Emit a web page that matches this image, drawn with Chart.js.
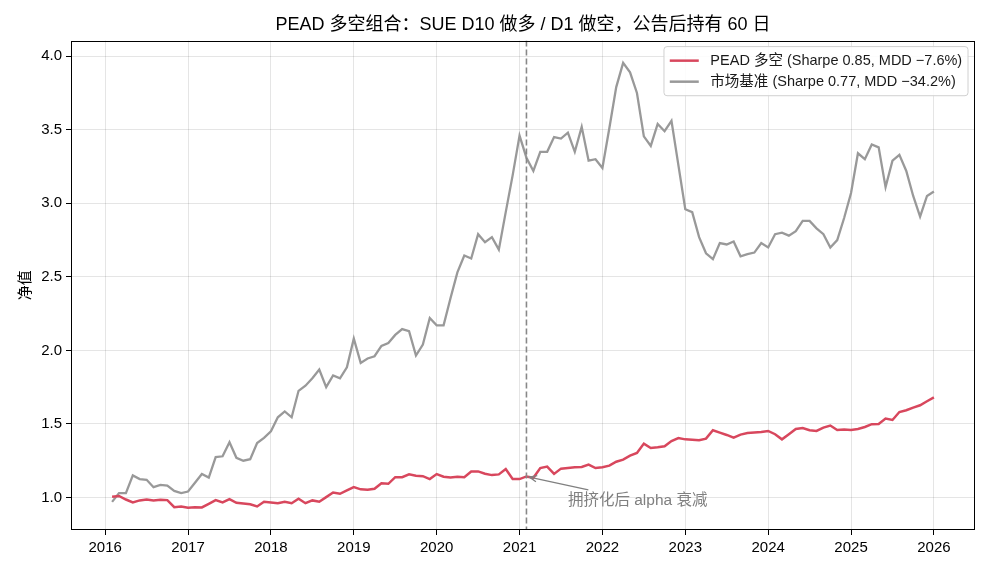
<!DOCTYPE html>
<html><head><meta charset="utf-8">
<script src="https://cdn.jsdelivr.net/npm/chart.js@4.4.1/dist/chart.umd.min.js"></script>
<style>html,body{margin:0;padding:0;background:#fff}#wrap{width:990px;height:572px;position:relative}</style>
</head><body><div id="wrap"><canvas id="c" width="990" height="572"></canvas></div>
<script>
const months = [
 '2016-01','2016-02','2016-03','2016-04','2016-05','2016-06','2016-07','2016-08','2016-09','2016-10','2016-11','2016-12',
 '2017-01','2017-02','2017-03','2017-04','2017-05','2017-06','2017-07','2017-08','2017-09','2017-10','2017-11','2017-12',
 '2018-01','2018-02','2018-03','2018-04','2018-05','2018-06','2018-07','2018-08','2018-09','2018-10','2018-11','2018-12',
 '2019-01','2019-02','2019-03','2019-04','2019-05','2019-06','2019-07','2019-08','2019-09','2019-10','2019-11','2019-12',
 '2020-01','2020-02','2020-03','2020-04','2020-05','2020-06','2020-07','2020-08','2020-09','2020-10','2020-11','2020-12',
 '2021-01','2021-02','2021-03','2021-04','2021-05','2021-06','2021-07','2021-08','2021-09','2021-10','2021-11','2021-12',
 '2022-01','2022-02','2022-03','2022-04','2022-05','2022-06','2022-07','2022-08','2022-09','2022-10','2022-11','2022-12',
 '2023-01','2023-02','2023-03','2023-04','2023-05','2023-06','2023-07','2023-08','2023-09','2023-10','2023-11','2023-12',
 '2024-01','2024-02','2024-03','2024-04','2024-05','2024-06','2024-07','2024-08','2024-09','2024-10','2024-11','2024-12',
 '2025-01','2025-02','2025-03','2025-04','2025-05','2025-06','2025-07','2025-08','2025-09','2025-10','2025-11','2025-12'
];
const peadValues = [
 1.005,1.01,0.986,0.966,0.98,0.986,0.98,0.984,0.982,0.934,
 0.939,0.93,0.934,0.932,0.957,0.982,0.966,0.989,0.964,0.959,
 0.954,0.939,0.971,0.966,0.961,0.971,0.961,0.991,0.961,0.98,
 0.971,1.002,1.034,1.025,1.048,1.07,1.055,1.052,1.059,1.097,
 1.093,1.138,1.138,1.157,1.148,1.145,1.125,1.159,1.141,1.136,
 1.141,1.138,1.177,1.177,1.161,1.152,1.157,1.193,1.125,1.125,
 1.143,1.134,1.2,1.21,1.16,1.196,1.2,1.205,1.207,1.223,
 1.2,1.205,1.216,1.243,1.257,1.284,1.302,1.366,1.336,1.341,
 1.348,1.384,1.404,1.395,1.393,1.389,1.4,1.457,1.441,1.425,
 1.407,1.427,1.438,1.441,1.445,1.452,1.43,1.395,1.43,1.466,
 1.472,1.457,1.452,1.475,1.489,1.459,1.462,1.459,1.466,1.479,
 1.498,1.5,1.536,1.527,1.581,1.593,1.611,1.627,1.654,1.68
];
const benchmarkValues = [
 0.97,1.03,1.03,1.15,1.125,1.12,1.07,1.085,1.08,1.045,
 1.03,1.04,1.10,1.16,1.135,1.275,1.28,1.375,1.27,1.25,
 1.26,1.37,1.405,1.45,1.545,1.585,1.545,1.725,1.76,1.81,
 1.87,1.75,1.83,1.81,1.885,2.08,1.915,1.945,1.96,2.03,
 2.05,2.105,2.145,2.13,1.965,2.04,2.22,2.17,2.17,2.355,
 2.53,2.645,2.625,2.79,2.735,2.77,2.685,2.94,3.19,3.46,
 3.31,3.22,3.35,3.35,3.45,3.44,3.48,3.35,3.52,3.29,
 3.30,3.24,3.51,3.79,3.955,3.89,3.75,3.455,3.39,3.54,
 3.49,3.56,3.26,2.96,2.94,2.77,2.66,2.62,2.73,2.72,
 2.74,2.64,2.655,2.665,2.73,2.70,2.79,2.80,2.78,2.81,
 2.88,2.88,2.83,2.79,2.70,2.75,2.90,3.07,3.34,3.30,
 3.40,3.38,3.11,3.29,3.33,3.22,3.05,2.91,3.05,3.08
];
const xTickYears = [2016,2017,2018,2019,2020,2021,2022,2023,2024,2025,2026];
const yTickValues = [1.0,1.5,2.0,2.5,3.0,3.5,4.0];
const seriesLabels = ['PEAD 多空 (Sharpe 0.85, MDD −7.6%)', '市场基准 (Sharpe 0.77, MDD −34.2%)'];
const seriesColors = ['#d8475d', '#999999'];
const titleText = 'PEAD 多空组合：SUE D10 做多 / D1 做空，公告后持有 60 日';
const yTitleText = '净值';
const eventMonth = '2021-01';
const annotationText = '拥挤化后 alpha 衰减';
const annotationTextMonth = '2021-07';
const annotationTextValue = 0.98;

const FONT = '"Liberation Sans", "Noto Sans CJK SC", sans-serif';
function toYear(m){ const [yy,mm] = m.split('-').map(Number); return yy + mm/12; }

const xs = months.map(toYear);
const xMinData = Math.min(...xs), xMaxData = Math.max(...xs);
const allV = peadValues.concat(benchmarkValues);
const yMinData = Math.min(...allV), yMaxData = Math.max(...allV);
const xPad = (xMaxData - xMinData) * 0.05, yPad = (yMaxData - yMinData) * 0.05;

const decor = {
  id: 'decor',
  afterDatasetsDraw(chart){
    const {ctx, chartArea:a, scales:{x, y}} = chart;
    ctx.save();
    const ex = x.getPixelForValue(toYear(eventMonth));
    ctx.save();
    ctx.beginPath(); ctx.rect(a.left, a.top, a.right-a.left, a.bottom-a.top); ctx.clip();
    ctx.setLineDash([6,3]); ctx.strokeStyle = '#888888'; ctx.lineWidth = 1.6;
    ctx.beginPath(); ctx.moveTo(ex, a.top); ctx.lineTo(ex, a.bottom); ctx.stroke();
    ctx.restore();
    const idx = months.indexOf(eventMonth);
    const px = ex, py = y.getPixelForValue(peadValues[idx]);
    ctx.font = '15.5px ' + FONT;
    const tx = x.getPixelForValue(toYear(annotationTextMonth));
    const ty = y.getPixelForValue(annotationTextValue);
    const tw = ctx.measureText(annotationText).width;
    ctx.fillStyle = '#808080'; ctx.textBaseline = 'middle'; ctx.textAlign = 'left';
    ctx.fillText(annotationText, tx, ty);
    const cx = tx + tw/2, cy = ty, hh = 10;
    let dx = px - cx, dy = py - cy;
    const t = Math.min((tw/2)/Math.abs(dx), hh/Math.abs(dy));
    let sx = cx + dx*t, sy = cy + dy*t;
    const L = Math.hypot(px - sx, py - sy);
    const ux = (px - sx)/L, uy = (py - sy)/L;
    sx += ux*3; sy += uy*3;
    const exx = px - ux*3, eyy = py - uy*3;
    ctx.strokeStyle = '#808080'; ctx.lineWidth = 1.3; ctx.setLineDash([]);
    ctx.beginPath(); ctx.moveTo(sx, sy); ctx.lineTo(exx, eyy); ctx.stroke();
    const ang = Math.atan2(uy, ux), hl = 8, ha = 0.4;
    ctx.beginPath();
    ctx.moveTo(exx - hl*Math.cos(ang - ha), eyy - hl*Math.sin(ang - ha));
    ctx.lineTo(exx, eyy);
    ctx.lineTo(exx - hl*Math.cos(ang + ha), eyy - hl*Math.sin(ang + ha));
    ctx.stroke();
    ctx.strokeStyle = '#000'; ctx.lineWidth = 1;
    ctx.strokeRect(Math.round(a.left)+0.5, Math.round(a.top)+0.5, Math.round(a.right-a.left)-1, Math.round(a.bottom-a.top)-1);
    const fs = 14.5;
    ctx.font = fs + 'px ' + FONT;
    const widths = seriesLabels.map(s => ctx.measureText(s).width);
    const bp = 0.4*fs, hl2 = 2*fs, htp = 0.8*fs, ls = 0.45*fs;
    const bw = 2*bp + hl2 + htp + Math.max(...widths);
    const bh = 2*bp + seriesLabels.length*fs + (seriesLabels.length-1)*ls + 2;
    const bx = a.right - 7 - bw, by = a.top + 6;
    ctx.beginPath();
    if (ctx.roundRect) ctx.roundRect(bx, by, bw, bh, 3); else ctx.rect(bx, by, bw, bh);
    ctx.fillStyle = 'rgba(255,255,255,0.85)'; ctx.fill();
    ctx.strokeStyle = '#d0d0d0'; ctx.lineWidth = 1; ctx.stroke();
    seriesLabels.forEach((lab, i) => {
      const rowY = by + bp + 1 + fs/2 + i*(fs + ls);
      ctx.strokeStyle = seriesColors[i]; ctx.lineWidth = 2.5;
      ctx.beginPath(); ctx.moveTo(bx + bp, rowY); ctx.lineTo(bx + bp + hl2, rowY); ctx.stroke();
      ctx.fillStyle = '#1a1a1a'; ctx.textAlign = 'left'; ctx.textBaseline = 'middle';
      ctx.fillText(lab, bx + bp + hl2 + htp, rowY);
    });
    ctx.restore();
  }
};

const tickFont = {family: FONT, size: 15};
new Chart(document.getElementById('c'), {
  type: 'line',
  data: {
    datasets: [
      {label: seriesLabels[0], data: months.map((m,i)=>({x: toYear(m), y: peadValues[i]})),
       borderColor: seriesColors[0], borderWidth: 2.5, pointRadius: 0, tension: 0, fill: false, order: 1},
      {label: seriesLabels[1], data: months.map((m,i)=>({x: toYear(m), y: benchmarkValues[i]})),
       borderColor: seriesColors[1], borderWidth: 2.3, pointRadius: 0, tension: 0, fill: false, order: 2}
    ]
  },
  options: {
    responsive: false, animation: false, devicePixelRatio: 1,
    layout: {padding: {top: 0, right: 15, left: 0, bottom: 0}},
    plugins: {
      legend: {display: false}, tooltip: {enabled: false},
      title: {display: true, text: titleText, fullSize: false, color: '#000',
        font: {family: FONT, size: 18, weight: 'normal'}, padding: {top: 14, bottom: 5}}
    },
    scales: {
      x: {type: 'linear', min: xMinData - xPad, max: xMaxData + xPad,
        afterBuildTicks: s => { s.ticks = xTickYears.map(v => ({value: v})); },
        afterFit: s => { s.height = 42; },
        ticks: {font: tickFont, color: '#000', padding: 4, autoSkip: false, maxRotation: 0, callback: v => String(v)},
        grid: {color: 'rgba(0,0,0,0.1)', lineWidth: 1, tickColor: '#000', tickLength: 5, drawTicks: true},
        border: {display: false}},
      y: {type: 'linear', min: yMinData - yPad, max: yMaxData + yPad,
        afterBuildTicks: s => { s.ticks = yTickValues.map(v => ({value: v})); },
        afterFit: s => { s.width = 71; },
        ticks: {font: tickFont, color: '#000', padding: 4, callback: v => Number(v).toFixed(1)},
        grid: {color: 'rgba(0,0,0,0.1)', lineWidth: 1, tickColor: '#000', tickLength: 5, drawTicks: true},
        border: {display: false},
        title: {display: true, text: yTitleText, color: '#000', font: {family: FONT, size: 15}, padding: {top: 17, bottom: 0}}}
    }
  },
  plugins: [decor]
});
</script></body></html>
